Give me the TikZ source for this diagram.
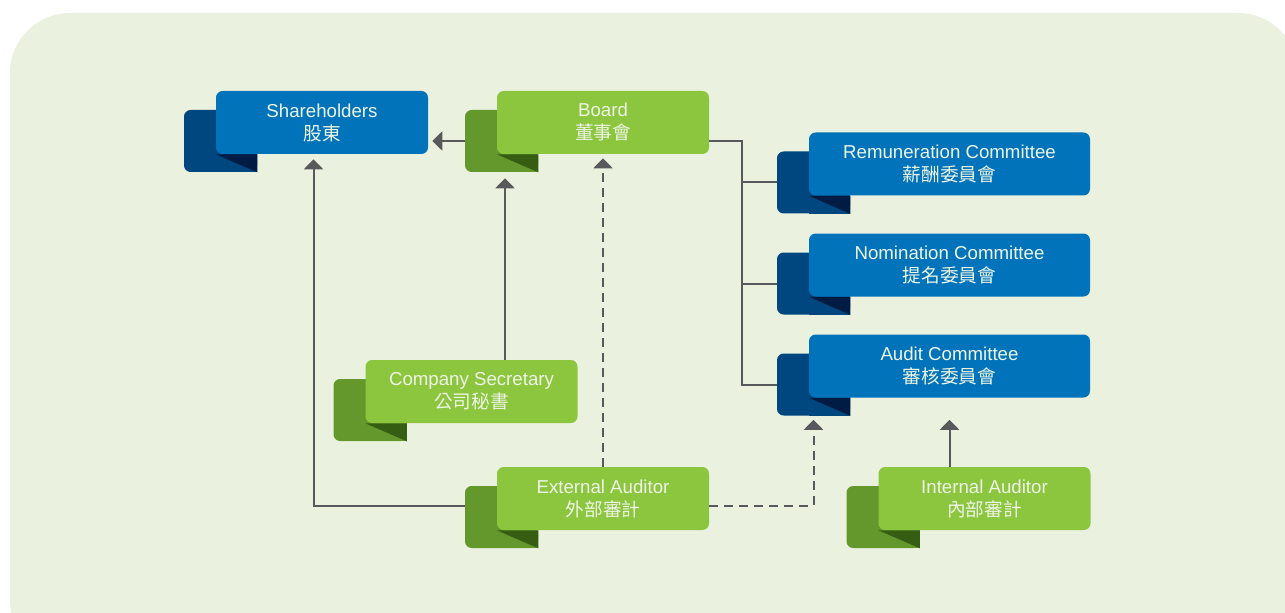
\documentclass[tikz,border=0pt]{standalone}
\usepackage{fontspec}
\setmainfont{Liberation Sans}
\newfontfamily\cjk{Noto Sans CJK TC}
\usetikzlibrary{arrows.meta,positioning,calc,backgrounds}
\definecolor{gPaper}{HTML}{EAF2DF}
\definecolor{gBlue}{HTML}{0073BB}
\definecolor{gBlueFlap}{HTML}{00467F}
\definecolor{gBlueFold}{HTML}{001C44}
\definecolor{gGreen}{HTML}{8CC63F}
\definecolor{gGreenFlap}{HTML}{65982C}
\definecolor{gGreenFold}{HTML}{365E12}
\definecolor{gText}{HTML}{EEF5E6}
\definecolor{gLine}{HTML}{58595B}

% folded tab behind a unit: node name, tab colour, fold colour
\newcommand\flap[3]{%
  \node[fill=#2,rounded corners=5pt,minimum width=54.75pt,minimum height=46.5pt,
        inner sep=0pt,anchor=north west] (#1F) at ($(#1.north west)+(-32,19)$) {};
  \fill[#2] ($(#1F.north west)+(32,0)$) rectangle (#1F.south east);
  \fill[#3] (#1.south west) -- (#1.south west -| #1F.east) -- (#1F.south east) -- cycle;}

\begin{document}
\begin{tikzpicture}[x=0.75pt,y=-0.75pt,font=\fontsize{14}{17.25}\selectfont,
    >={Triangle[width=14.25pt,length=7.5pt]},
    unit/.style={rectangle,rounded corners=5pt,minimum width=159pt,minimum height=47.25pt,
                 inner sep=0pt,align=center,text=gText},
    blueunit/.style={unit,fill=gBlue},
    greenunit/.style={unit,fill=gGreen},
    committee/.style={blueunit,minimum width=210.75pt},
    link/.style={draw=gLine,line width=1.5pt},
    dashlink/.style={link,dash pattern=on 6.75pt off 4.5pt}]
  \useasboundingbox (0,0) rectangle (1285,613);

  % top row
  \node[blueunit]  (share) at (322,122.5) {Shareholders\\{\cjk 股東}};
  \node[greenunit] (board) at (603,122.5) {Board\\{\cjk 董事會}};

  % board committees
  \node[committee] (rem) at (949.5,164) {Remuneration Committee\\{\cjk 薪酬委員會}};
  \node[committee] (nom) at (949.5,265) {Nomination Committee\\{\cjk 提名委員會}};
  \node[committee] (aud) at (949.5,366) {Audit Committee\\{\cjk 審核委員會}};

  % support functions
  \node[greenunit] (cs)  at (471.5,391.5) {Company Secretary\\{\cjk 公司秘書}};
  \node[greenunit] (ext) at (603,498.5)   {External Auditor\\{\cjk 外部審計}};
  \node[greenunit] (int) at (984.5,498.5) {Internal Auditor\\{\cjk 內部審計}};

  \begin{scope}[on background layer]
    \fill[white] (0,0) rectangle (1285,613);
    \fill[gPaper,rounded corners=45pt] (10,13) rectangle (1298,660);
    \flap{share}{gBlueFlap}{gBlueFold}
    \flap{board}{gGreenFlap}{gGreenFold}
    \flap{rem}{gBlueFlap}{gBlueFold}
    \flap{nom}{gBlueFlap}{gBlueFold}
    \flap{aud}{gBlueFlap}{gBlueFold}
    \flap{cs}{gGreenFlap}{gGreenFold}
    \flap{ext}{gGreenFlap}{gGreenFold}
    \flap{int}{gGreenFlap}{gGreenFold}
  \end{scope}

  % board -> shareholders, board -> committees
  \draw[link,->,shorten >=3pt] (boardF.west) -- (share.east |- boardF.west);
  \coordinate (bus) at ($(board.east |- boardF.west)+(33,0)$);
  \draw[link] (board.east |- boardF.west) -- (bus) |- (audF.west);
  \draw[link] (bus) |- (remF.west);
  \draw[link] (bus) |- (nomF.west);

  % company secretary
  \coordinate (csTop) at ($(cs.north)+(33.5,0)$);
  \draw[link,->,shorten >=4.5pt] (csTop) -- (csTop |- boardF.south);

  % external auditor
  \coordinate (extMid) at ($(ext.center)+(0,7)$);
  \coordinate (shareIn) at ($(share.south)+(-8.5,0)$);
  \draw[link,->,shorten >=3.75pt] (extMid -| extF.west) -| (shareIn);
  \draw[dashlink,->,shorten >=3pt] (ext.north) -- (board.south);
  \draw[dashlink,->,shorten >=3pt] (extMid -| ext.east) -| (audF.south);

  % internal auditor
  \draw[link,->,shorten >=3pt] (aud.south |- int.north) -- (aud.south |- audF.south);
\end{tikzpicture}
\end{document}
